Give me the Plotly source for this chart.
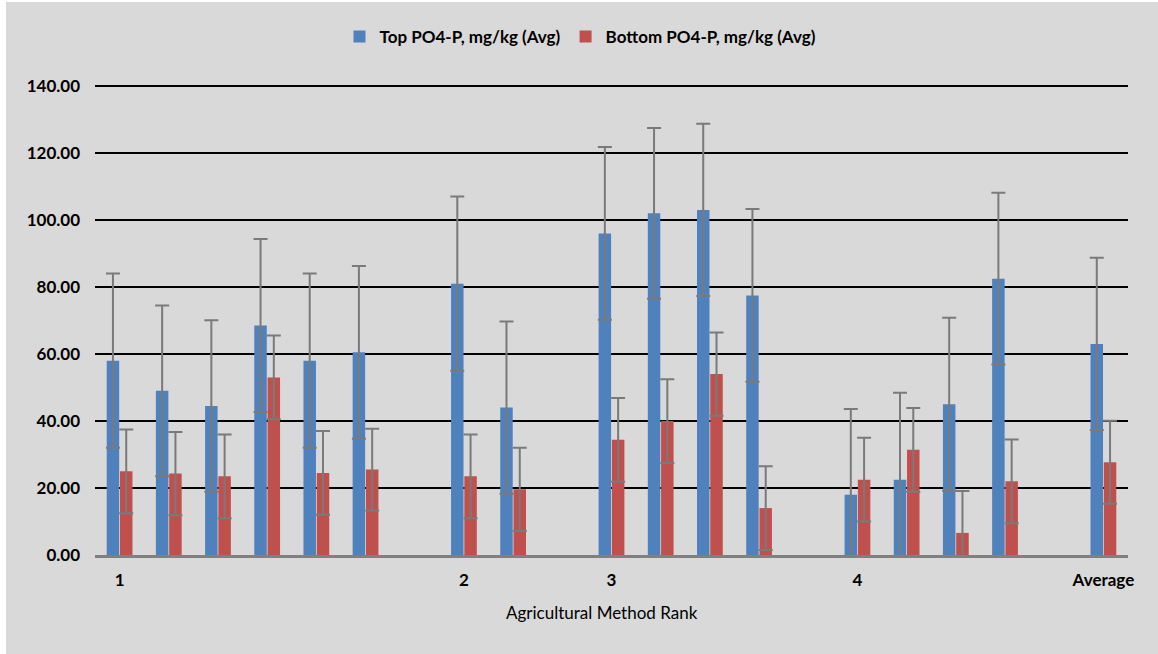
import plotly.graph_objects as go

categories = ["1", "", "", "", "", "", "", "2", "", "", "3", "", "", "", "", "4", "", "", "", "", "Average"]
top_avg = [58, 49, 44.5, 68.5, 58, 60.5, None, 81, 44, None, 96, 102, 103, 77.5, None, 18, 22.5, 45, 82.5, None, 63]
top_err = [26, 25.5, 25.6, 25.8, 26, 25.8, None, 26, 25.7, None, 25.8, 25.5, 25.7, 25.8, None, 25.6, 25.9, 25.8, 25.6, None, 25.7]
bottom_avg = [25, 24.3, 23.5, 53, 24.5, 25.5, None, 23.5, 19.6, None, 34.4, 40, 54, 14, None, 22.5, 31.4, 6.6, 22, None, 27.7]
bottom_err = [12.5, 12.4, 12.5, 12.5, 12.5, 12.2, None, 12.5, 12.4, None, 12.5, 12.5, 12.4, 12.5, None, 12.5, 12.5, 12.5, 12.5, None, 12.4]

x = list(range(len(categories)))
tickvals = [i for i, c in enumerate(categories) if c]
ticktext = [c for c in categories if c]

font_family = "Lato, 'Open Sans', sans-serif"
err_style = dict(type="data", visible=True, color="#7a7a7a", thickness=2, width=7)

fig = go.Figure()
fig.add_trace(go.Bar(
    x=x, y=top_avg, name="Top PO4-P, mg/kg (Avg)",
    marker=dict(color="#4f81bd", line=dict(width=0)),
    error_y=dict(array=top_err, **err_style),
))
fig.add_trace(go.Bar(
    x=x, y=bottom_avg, name="Bottom PO4-P, mg/kg (Avg)",
    marker=dict(color="#c0504d", line=dict(width=0)),
    error_y=dict(array=bottom_err, **err_style),
))

fig.update_layout(
    width=1152, height=652,
    paper_bgcolor="#d9d9d9", plot_bgcolor="#d9d9d9",
    margin=dict(l=89, r=30, t=82, b=99, autoexpand=False),
    barmode="group", bargap=0.46, bargroupgap=0.06,
    font=dict(family=font_family, size=14, color="#000000"),
    legend=dict(orientation="h", x=0.47, xanchor="center", y=1.1, yanchor="middle",
                font=dict(size=17, family=font_family, weight="bold"),
                bgcolor="rgba(0,0,0,0)", traceorder="normal"),
    xaxis=dict(
        range=[-0.5, len(categories) - 0.5], automargin=False,
        tickmode="array", tickvals=tickvals, ticktext=ticktext,
        showgrid=False, zeroline=False, ticks="", ticklabelstandoff=8,
        showline=True, linecolor="#808080", linewidth=2.5,
        tickfont=dict(size=17, family=font_family, weight="bold"),
    ),
    yaxis=dict(
        range=[0, 140.6], tickmode="linear", tick0=0, dtick=20, tickformat=".2f",
        automargin=False,
        showgrid=True, gridcolor="#000000", gridwidth=1.5,
        zeroline=False, showline=False, ticks="", ticklen=0, ticklabelstandoff=14,
        tickfont=dict(size=17, family=font_family, weight="bold"),
    ),
    annotations=[dict(
        text="Agricultural Method Rank", xref="paper", yref="paper",
        x=0.491, y=0, xanchor="center", yanchor="middle", yshift=-57,
        showarrow=False, font=dict(size=17, family=font_family, color="#000000"),
    )],
)

fig.write_html("out.html", post_script="document.body.style.margin='2px 0 0 6px';")
